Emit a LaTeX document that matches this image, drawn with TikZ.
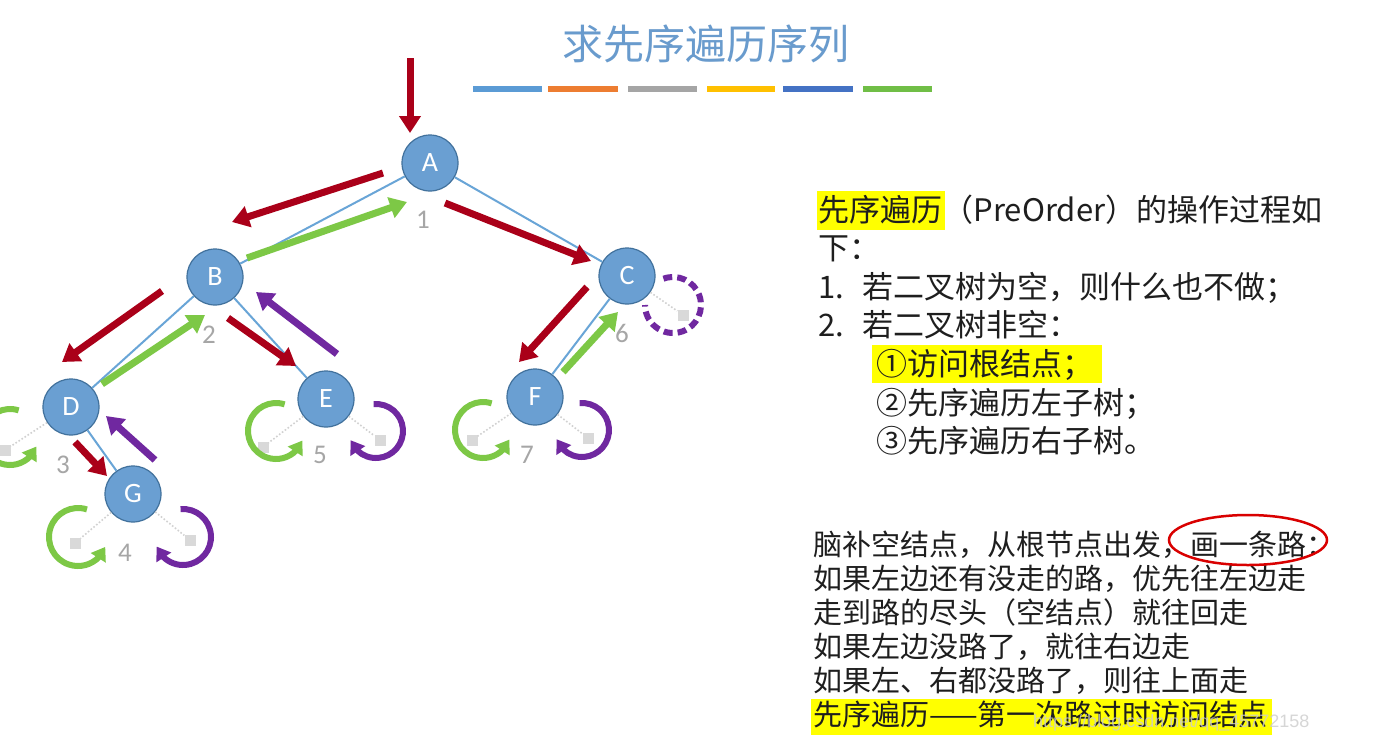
\documentclass[tikz,border=0pt]{standalone}
\usepackage{fontspec}
\setmainfont{Carlito}
\newfontfamily\cjk{Noto Sans CJK SC}
\newfontfamily\wm{Liberation Sans}
\usetikzlibrary{arrows.meta,bending}
\definecolor{nodefill}{RGB}{106,159,210}
\definecolor{nodeline}{RGB}{65,113,156}
\definecolor{edgeblue}{RGB}{105,165,215}
\definecolor{titleblue}{RGB}{105,155,205}
\definecolor{arred}{RGB}{170,0,25}
\definecolor{argreen}{RGB}{125,200,70}
\definecolor{arpurple}{RGB}{112,40,160}
\definecolor{numgray}{RGB}{166,166,166}
\definecolor{barA}{RGB}{91,155,213}
\definecolor{barB}{RGB}{237,125,49}
\definecolor{barC}{RGB}{165,165,165}
\definecolor{barD}{RGB}{255,192,0}
\definecolor{barE}{RGB}{68,114,196}
\definecolor{barF}{RGB}{112,190,70}
\definecolor{hlyellow}{RGB}{255,255,0}
\definecolor{txtcol}{RGB}{30,30,30}
\tikzset{
  tnode/.style={circle, minimum size=56pt, inner sep=0pt, fill=nodefill, draw=nodeline, line width=1.2pt, text=white, font=\fontsize{28}{32}\selectfont},
  edge/.style={draw=edgeblue, line width=2pt},
  leafsq/.style={rectangle, minimum size=11pt, inner sep=0pt, fill=black!15},
  nullline/.style={draw=black!18, line width=1.6pt, dotted},
  arr/.style={line width=7pt, -{Triangle[length=17pt,width=21pt]}},
  larr/.style={line width=6pt, -{Triangle[length=13pt,width=17pt,flex]}},
  num/.style={text=numgray, font=\fontsize{27}{30}\selectfont},
  txt/.style={font=\cjk\fontsize{31}{36}\selectfont, anchor=base west, inner sep=0pt, text=txtcol},
  stxt/.style={font=\cjk\fontsize{29}{34}\selectfont, anchor=base west, inner sep=0pt, text=txtcol},
}
\begin{document}
\begin{tikzpicture}[x=1pt,y=1pt]
\fill[white] (0,0) rectangle (1377,-740);
\useasboundingbox (0,0) rectangle (1377,-740);

% title and bars
\node[font=\cjk\fontsize{41}{48}\selectfont, text=titleblue] (title) at (706,-44) {求先序遍历序列};
\fill[barA] (473,-86) rectangle (542,-92);
\fill[barB] (548,-86) rectangle (618,-92);
\fill[barC] (628,-86) rectangle (697,-92);
\fill[barD] (707,-86) rectangle (775,-92);
\fill[barE] (783,-86) rectangle (853,-92);
\fill[barF] (863,-86) rectangle (932,-92);

% tree nodes
\node[tnode] (A) at (430,-163) {A};
\node[tnode] (B) at (215,-277) {B};
\node[tnode] (C) at (627,-276) {C};
\node[tnode] (D) at (71,-407) {D};
\node[tnode] (E) at (326,-399) {E};
\node[tnode] (F) at (535,-397) {F};
\node[tnode] (G) at (133,-494) {G};

% null leaves
\node[leafsq] (Dl) at (5,-450) {};
\node[leafsq] (El) at (263,-447) {};
\node[leafsq] (Er) at (380,-440) {};
\node[leafsq] (Fl) at (472,-440) {};
\node[leafsq] (Fr) at (588,-438) {};
\node[leafsq] (Gl) at (75,-543) {};
\node[leafsq] (Gr) at (190,-540) {};
\node[leafsq] (Cr) at (683,-315) {};

\draw[nullline] (D) -- (Dl);
\draw[nullline] (E) -- (El);
\draw[nullline] (E) -- (Er);
\draw[nullline] (F) -- (Fl);
\draw[nullline] (F) -- (Fr);
\draw[nullline] (G) -- (Gl);
\draw[nullline] (G) -- (Gr);
\draw[nullline] (C) -- (Cr);

% tree edges
\draw[edge] (A) -- (B);
\draw[edge] (A) -- (C);
\draw[edge] (B) -- (D);
\draw[edge] (B) -- (E);
\draw[edge] (D) -- (G);
\draw[edge] (C) -- (F);

% numbers
\node[num] (n1) at (423,-220) {1};
\node[num] (n2) at (209,-335) {2};
\node[num] (n3) at (63,-465) {3};
\node[num] (n4) at (125,-553) {4};
\node[num] (n5) at (320,-455) {5};
\node[num] (n6) at (622,-333) {6};
\node[num] (n7) at (527,-455) {7};

% straight traversal arrows
\draw[arr, arred] (410,-58) -- (410,-133);
\draw[arr, arred] (383,-173) -- (232,-222);
\draw[arr, argreen] (247,-258) -- (407,-202);
\draw[arr, arred] (445,-203) -- (591,-261);
\draw[arr, arred] (162,-291) -- (62,-362);
\draw[arr, argreen] (102,-384) -- (205,-315);
\draw[arr, arred] (228,-318) -- (296,-366);
\draw[arr, arpurple] (337,-354) -- (256,-292);
\draw[arr, arred] (75,-442) -- (107,-476);
\draw[arr, arpurple] (155,-460) -- (106,-416);
\draw[arr, arred] (587,-287) -- (519,-362);
\draw[arr, argreen] (563,-372) -- (618,-312);

% loops around null leaves
\coordinate (Dgl) at (10,-437);
\coordinate (Egl) at (276,-431);
\coordinate (Epl) at (376,-431);
\coordinate (Fgl) at (483,-430);
\coordinate (Fpl) at (582,-430);
\coordinate (Ggl) at (78,-537);
\coordinate (Gpl) at (183,-537);
\coordinate (Cpl) at (673,-305);

\draw[larr, argreen] (Dgl) ++(72:28) arc[start angle=72, end angle=340, radius=28];
\draw[larr, argreen] (Egl) ++(72:28) arc[start angle=72, end angle=340, radius=28];
\draw[larr, arpurple] (Epl) ++(95:27) arc[start angle=95, end angle=-160, radius=27];
\draw[larr, argreen] (Fgl) ++(72:28) arc[start angle=72, end angle=340, radius=28];
\draw[larr, arpurple] (Fpl) ++(95:27) arc[start angle=95, end angle=-160, radius=27];
\draw[larr, argreen] (Ggl) ++(72:29) arc[start angle=72, end angle=340, radius=29];
\draw[larr, arpurple] (Gpl) ++(95:28) arc[start angle=95, end angle=-160, radius=28];
\draw[arpurple, line width=6pt, dash pattern=on 9pt off 5pt] (Cpl) ++(110:28) arc[start angle=110, end angle=-180, radius=28];

% right text block
\fill[hlyellow] (817,-191) rectangle (945,-230);
\fill[hlyellow] (872,-345) rectangle (1102,-383);
\node[txt] (l1a) at (818,-221) {先序遍历};
\node[txt] (l1b) at (l1a.base east) {（PreOrder）的操作过程如};
\node[txt] (l2) at (818,-259) {下：};
\node[txt] (l3a) at (818,-298) {1.};
\node[txt] (l3b) at (862,-298) {若二叉树为空，则什么也不做；};
\node[txt] (l4a) at (818,-336) {2.};
\node[txt] (l4b) at (862,-336) {若二叉树非空：};
\node[txt] (l5) at (876,-375) {①访问根结点；};
\node[txt] (l6) at (876,-414) {②先序遍历左子树；};
\node[txt] (l7) at (876,-452) {③先序遍历右子树。};

% bottom text block
\fill[hlyellow] (811,-699) rectangle (1272,-735);
\node[stxt] (b1) at (813,-555) {脑补空结点，从根节点出发，画一条路：};
\node[stxt] (b2) at (813,-589) {如果左边还有没走的路，优先往左边走};
\node[stxt] (b3) at (813,-623) {走到路的尽头（空结点）就往回走};
\node[stxt] (b4) at (813,-657) {如果左边没路了，就往右边走};
\node[stxt] (b5) at (813,-691) {如果左、右都没路了，则往上面走};
\node[stxt] (b6) at (813,-725) {先序遍历——第一次路过时访问结点};
\draw[draw=red!85!black, line width=2.5pt] (1248,-540) ellipse [x radius=79, y radius=25];
\node[font=\wm\fontsize{18}{20}\selectfont, text=white!80!black, opacity=0.8, anchor=base west, inner sep=0pt] (wmk) at (1033,-727) {https://blog.csdn.net/qq\_45772158};
\end{tikzpicture}
\end{document}
